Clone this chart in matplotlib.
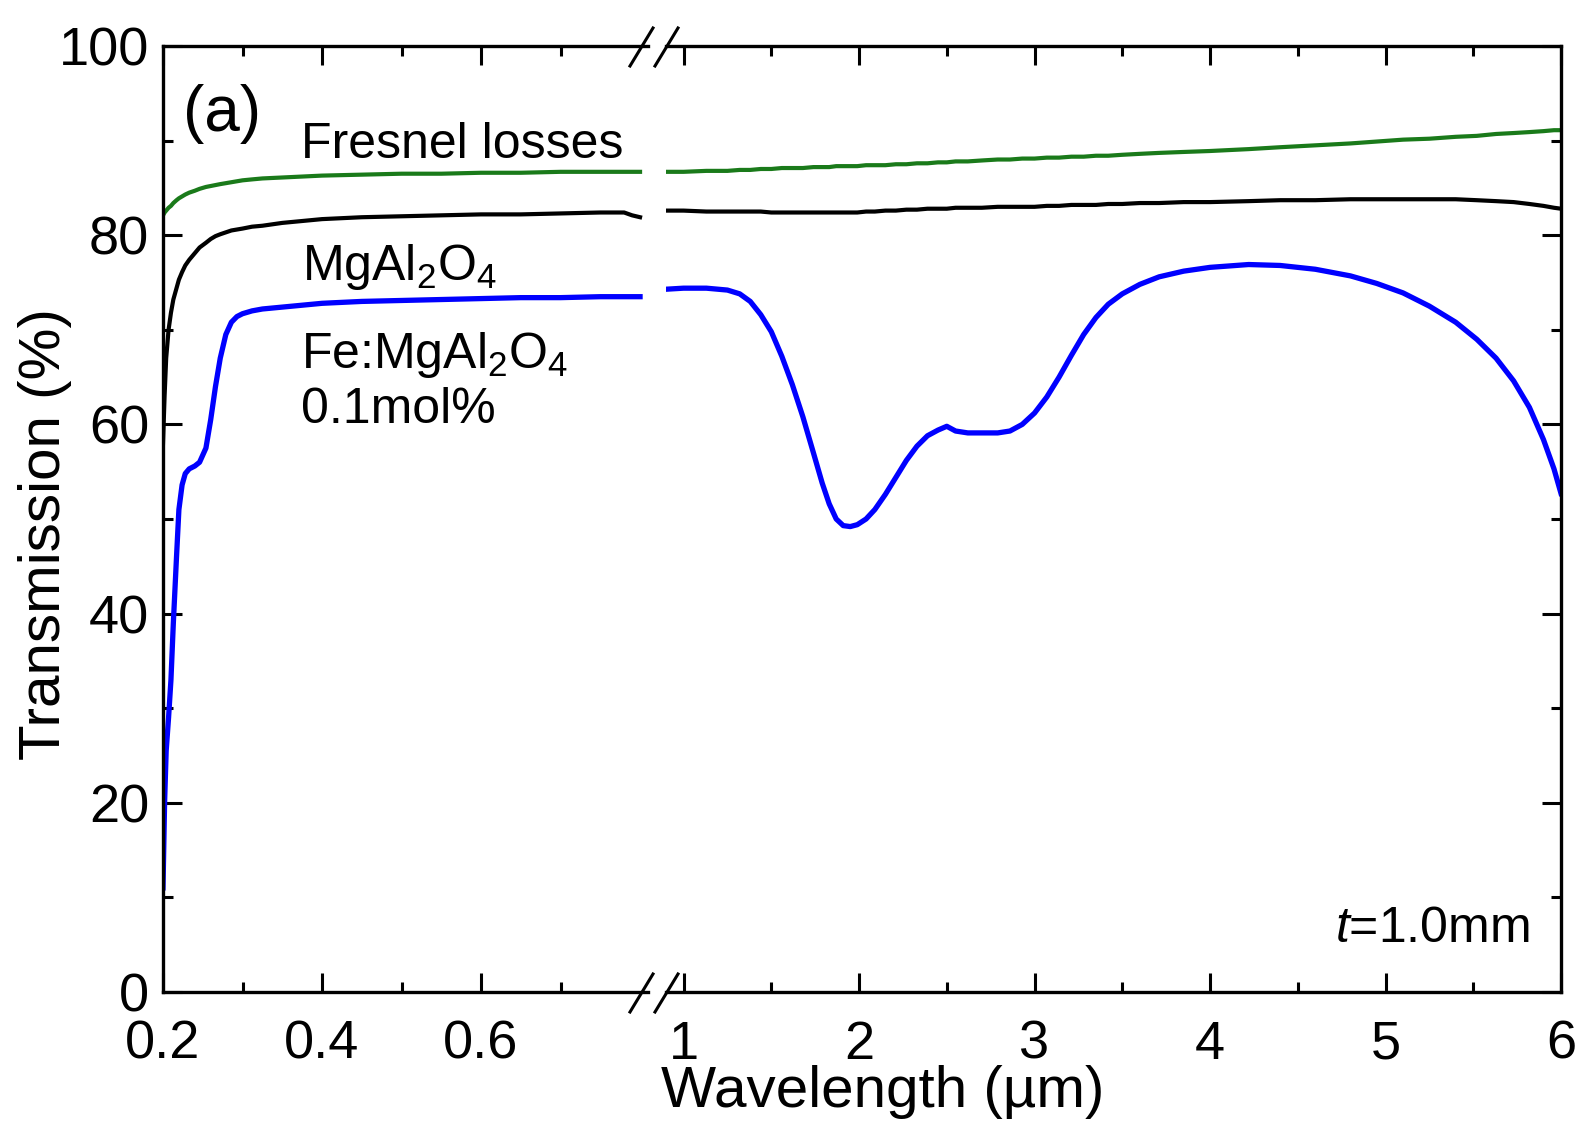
import matplotlib
matplotlib.use("Agg")
import matplotlib.pyplot as plt
from matplotlib.lines import Line2D
from matplotlib.ticker import MultipleLocator

plt.rcParams['font.family'] = ['Liberation Sans', 'DejaVu Sans']
plt.rcParams['mathtext.fontset'] = 'custom'
plt.rcParams['mathtext.rm'] = 'Liberation Sans'
plt.rcParams['mathtext.it'] = 'Liberation Sans:italic'

# ---------------------------------------------- data (UV-vis part, 0.2-0.8 um)
wl_uv = [0.200, 0.202, 0.204, 0.207, 0.210, 0.213, 0.217, 0.220, 0.224, 0.228,
         0.233, 0.240, 0.246, 0.254, 0.260, 0.266, 0.272, 0.279, 0.286, 0.293,
         0.300, 0.312, 0.325, 0.350, 0.375, 0.400, 0.450, 0.500, 0.550,
         0.600, 0.650, 0.700, 0.750, 0.780, 0.790, 0.800]
fresnel_uv = [82.1, 82.4, 82.6, 82.9, 83.1, 83.4, 83.7, 83.9, 84.1, 84.3,
              84.5, 84.7, 84.9, 85.1, 85.2, 85.3, 85.4, 85.5, 85.6, 85.7,
              85.8, 85.9, 86.0, 86.1, 86.2, 86.3, 86.4, 86.5, 86.5,
              86.6, 86.6, 86.7, 86.7, 86.7, 86.7, 86.7]
mgal_uv = [58.0, 63.0, 67.0, 70.0, 71.8, 73.2, 74.4, 75.3, 76.1, 76.8,
           77.4, 78.1, 78.7, 79.2, 79.6, 79.9, 80.1, 80.3, 80.5, 80.6,
           80.7, 80.9, 81.0, 81.3, 81.5, 81.7, 81.9, 82.0, 82.1,
           82.2, 82.2, 82.3, 82.4, 82.4, 82.1, 81.9]
fe_uv = [11.0, 20.0, 25.5, 29.0, 33.0, 39.0, 46.0, 51.0, 53.6, 54.8,
         55.3, 55.6, 56.0, 57.5, 60.5, 64.0, 67.0, 69.5, 70.8, 71.4,
         71.7, 72.0, 72.2, 72.4, 72.6, 72.8, 73.0, 73.1, 73.2,
         73.3, 73.4, 73.4, 73.5, 73.5, 73.5, 73.5]

# ---------------------------------------------- data (IR part, 0.9-6 um)
wl_ir = [0.91, 1.0, 1.13, 1.25, 1.32, 1.38, 1.44, 1.50, 1.56, 1.62,
         1.68, 1.74, 1.79, 1.83, 1.87, 1.91, 1.95, 1.99, 2.04, 2.09,
         2.15, 2.21, 2.27, 2.33, 2.39, 2.45, 2.50, 2.55, 2.62, 2.70,
         2.79, 2.86, 2.93, 3.00, 3.07, 3.14, 3.21, 3.28, 3.35, 3.42,
         3.50, 3.60, 3.71, 3.85, 4.0, 4.22, 4.40, 4.60, 4.80, 4.95,
         5.10, 5.25, 5.40, 5.52, 5.63, 5.73, 5.82, 5.90, 5.96, 6.0]
fresnel_ir = [86.7, 86.7, 86.8, 86.8, 86.9, 86.9, 87.0, 87.0, 87.1, 87.1,
              87.1, 87.2, 87.2, 87.2, 87.3, 87.3, 87.3, 87.3, 87.4, 87.4,
              87.4, 87.5, 87.5, 87.6, 87.6, 87.7, 87.7, 87.8, 87.8, 87.9,
              88.0, 88.0, 88.1, 88.1, 88.2, 88.2, 88.3, 88.3, 88.4, 88.4,
              88.5, 88.6, 88.7, 88.8, 88.9, 89.1, 89.3, 89.5, 89.7, 89.9,
              90.1, 90.2, 90.4, 90.5, 90.7, 90.8, 90.9, 91.0, 91.1, 91.1]
mgal_ir = [82.6, 82.6, 82.5, 82.5, 82.5, 82.5, 82.5, 82.4, 82.4, 82.4,
           82.4, 82.4, 82.4, 82.4, 82.4, 82.4, 82.4, 82.4, 82.5, 82.5,
           82.6, 82.6, 82.7, 82.7, 82.8, 82.8, 82.8, 82.9, 82.9, 82.9,
           83.0, 83.0, 83.0, 83.0, 83.1, 83.1, 83.2, 83.2, 83.2, 83.3,
           83.3, 83.4, 83.4, 83.5, 83.5, 83.6, 83.7, 83.7, 83.8, 83.8,
           83.8, 83.8, 83.8, 83.7, 83.6, 83.5, 83.3, 83.1, 82.9, 82.8]
fe_ir = [74.3, 74.4, 74.4, 74.2, 73.8, 73.0, 71.6, 69.8, 67.2, 64.2,
         60.8, 57.0, 53.8, 51.6, 50.0, 49.3, 49.2, 49.4, 50.0, 51.0,
         52.6, 54.4, 56.2, 57.7, 58.8, 59.4, 59.8, 59.3, 59.1, 59.1,
         59.1, 59.3, 60.0, 61.2, 62.9, 65.0, 67.3, 69.5, 71.3, 72.7,
         73.8, 74.8, 75.6, 76.2, 76.6, 76.9, 76.8, 76.4, 75.7, 74.9,
         73.9, 72.5, 70.8, 69.0, 67.0, 64.6, 61.8, 58.4, 55.3, 52.7]

fig = plt.figure(figsize=(15.79, 11.26), dpi=100)
bottom, height = 1 - 992 / 1126, (992 - 46) / 1126
ax1 = fig.add_axes([163 / 1579, bottom, 485 / 1579, height])
ax2 = fig.add_axes([666 / 1579, bottom, 895 / 1579, height])

for ax, wl, fr, mg, fe in [(ax1, wl_uv, fresnel_uv, mgal_uv, fe_uv),
                           (ax2, wl_ir, fresnel_ir, mgal_ir, fe_ir)]:
    ax.plot(wl, fr, color='#1a7a1a', lw=3.0)
    ax.plot(wl, mg, color='black', lw=3.0)
    ax.plot(wl, fe, color='#0000ff', lw=3.8)
    ax.set_ylim(0, 100)
    ax.yaxis.set_major_locator(MultipleLocator(20))
    ax.yaxis.set_minor_locator(MultipleLocator(10))
    for s in ax.spines.values():
        s.set_linewidth(2.4)
    ax.tick_params(which='both', direction='in', width=2.2, top=True,
                   labelsize=39)
    ax.tick_params(axis='x', pad=20)
    ax.tick_params(axis='y', pad=10)
    ax.tick_params(which='major', length=14)
    ax.tick_params(which='minor', length=7)

ax1.set_xlim(0.2, 0.81)
ax1.set_xticks([0.2, 0.4, 0.6])
ax1.set_xticks([0.3, 0.5, 0.7], minor=True)
ax1.set_xticklabels(['0.2', '0.4', '0.6'])
ax1.spines['right'].set_visible(False)
ax1.tick_params(which='both', right=False)
ax1.set_ylabel('Transmission (%)', fontsize=42)
ax1.yaxis.set_label_coords(-0.188, 0.484)

ax2.set_xlim(0.9, 6)
ax2.set_xticks([1, 2, 3, 4, 5, 6])
ax2.set_xticks([1.5, 2.5, 3.5, 4.5, 5.5], minor=True)
ax2.spines['left'].set_visible(False)
ax2.tick_params(which='both', left=False, labelleft=False, right=True)

fig.text(883 / 1579, 0.006, 'Wavelength (\u00b5m)', fontsize=42,
         ha='center', va='bottom')

# break marks
for yc in (47, 993):
    for x0 in (630, 655):
        fig.add_artist(Line2D([x0 / 1579, (x0 + 23) / 1579],
                              [1 - (yc + 19) / 1126, 1 - (yc - 19) / 1126],
                              color='black', lw=2.2, transform=fig.transFigure))

# annotations
ax1.text(0.225, 91.0, '(a)', fontsize=46, va='baseline')
ax1.text(0.373, 88.2, 'Fresnel losses', fontsize=36, va='baseline')
ax1.text(0.375, 75.3, r'MgAl$_2$O$_4$', fontsize=36, va='baseline')
ax1.text(0.373, 66.0, r'Fe:MgAl$_2$O$_4$', fontsize=36, va='baseline')
ax1.text(0.373, 60.2, '0.1mol%', fontsize=36, va='baseline')
ax2.text(5.82, 5.3, r'$\mathit{t}$=1.0mm', fontsize=36, va='baseline', ha='right')

fig.savefig('out.png', dpi=100)
